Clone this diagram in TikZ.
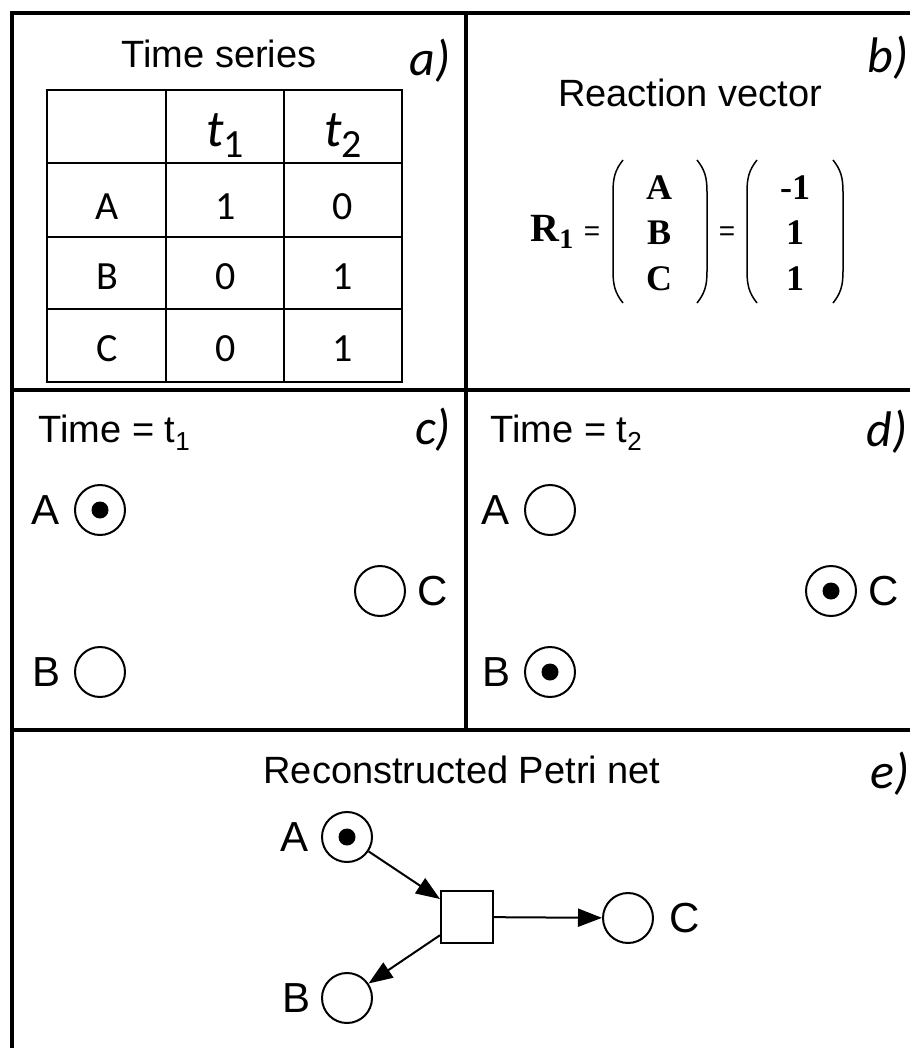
\documentclass[tikz,border=0pt]{standalone}
\usepackage{fontspec}
\setmainfont{Liberation Sans}
\newfontfamily\calfont{Carlito}
\newfontfamily\serfont{Liberation Serif}
\usetikzlibrary{positioning,arrows.meta}

\begin{document}
\begin{tikzpicture}[x=1pt,y=-1pt,
  frame/.style={line width=3.5pt},
  cell/.style={line width=2pt},
  title/.style={font=\fontsize{38}{40}\selectfont},
  tag/.style={font=\fontsize{50}{52}\selectfont\calfont\itshape},
  entry/.style={font=\fontsize{40}{42}\selectfont\calfont},
  vec/.style={font=\fontsize{36}{38}\selectfont\serfont\bfseries},
  eq/.style={font=\fontsize{28}{30}\selectfont},
  bracket/.style={line width=1.5pt},
  place/.style={circle,draw,line width=2pt,minimum size=50pt,inner sep=0pt},
  marked/.style={path picture={\fill (path picture bounding box.center) circle (8.5pt);}},
  pname/.style={font=\fontsize{42}{44}\selectfont,inner sep=2pt},
  trans/.style={rectangle,draw,line width=2pt,minimum size=52pt,inner sep=0pt},
  arc/.style={line width=2pt,-{Triangle[length=24pt,width=18pt]}}]

\useasboundingbox (0,0) rectangle (909,1048);

% panel frame
\draw[frame] (12,1060) -- (12,13) -- (920,13);
\draw[frame] (466,13) -- (466,730);
\draw[frame] (12,390) -- (920,390);
\draw[frame] (12,730) -- (920,730);

% a) time series
\node[title,anchor=base] (ts) at (219,68) {Time series};
\node[tag] (la) at (430,61) {a)};
\draw[cell] (47,90) rectangle (402,382);
\foreach \x in {166,284} \draw[cell] (\x,90) -- (\x,382);
\foreach \y in {163,237,309} \draw[cell] (47,\y) -- (402,\y);
\node[entry,anchor=base] (h1) at (225,147) {{\fontsize{52}{54}\selectfont\itshape t}\raisebox{-11pt}{1}};
\node[entry,anchor=base] (h2) at (343,147) {{\fontsize{52}{54}\selectfont\itshape t}\raisebox{-11pt}{2}};
\node[entry] (rA) at (107,207) {A};
\node[entry] (rA1) at (226,207) {1};
\node[entry] (rA2) at (343,207) {0};
\node[entry] (rB) at (107,277) {B};
\node[entry] (rB1) at (226,277) {0};
\node[entry] (rB2) at (343,277) {1};
\node[entry] (rC) at (107,349) {C};
\node[entry] (rC1) at (226,349) {0};
\node[entry] (rC2) at (343,349) {1};

% b) reaction vector
\node[title,anchor=base] (rv) at (690,107) {Reaction vector};
\node[tag] (lb) at (888,58) {b)};
\node[vec] (R1) at (552,232) {{\fontsize{40}{42}\selectfont R}\raisebox{-7pt}{\fontsize{28}{30}\selectfont 1}};
\node[eq] (eq1) at (592,234) {=};
\node[eq] (eq2) at (727,234) {=};
\node[vec] (vA) at (659,188) {A};
\node[vec] (vB) at (659,233) {B};
\node[vec] (vC) at (659,279) {C};
\node[vec] (n1) at (795,188) {-1};
\node[vec] (n2) at (795,233) {1};
\node[vec] (n3) at (795,279) {1};
\draw[bracket] (623,160) .. controls (615,170) and (613,178) .. (613,192) -- (613,271) .. controls (613,285) and (615,293) .. (623,303);
\draw[bracket] (697,160) .. controls (705,170) and (707,178) .. (707,192) -- (707,271) .. controls (707,285) and (705,293) .. (697,303);
\draw[bracket] (757,160) .. controls (749,170) and (747,178) .. (747,192) -- (747,271) .. controls (747,285) and (749,293) .. (757,303);
\draw[bracket] (833,160) .. controls (841,170) and (843,178) .. (843,192) -- (843,271) .. controls (843,285) and (841,293) .. (833,303);

% c) marking at t1
\node[title,anchor=base west] (tc) at (35,442) {Time = t\raisebox{-8pt}{\fontsize{26}{28}\selectfont 1}};
\node[tag] (lc) at (433,430) {c)};
\node[place,marked] (pAc) at (100,510) {};
\node[place] (pCc) at (380,591) {};
\node[place] (pBc) at (100,672) {};
\node[pname,left=12pt of pAc] (nAc) {A};
\node[pname,right=9pt of pCc] (nCc) {C};
\node[pname,left=11pt of pBc] (nBc) {B};

% d) marking at t2
\node[title,anchor=base west] (td) at (487,442) {Time = t\raisebox{-8pt}{\fontsize{26}{28}\selectfont 2}};
\node[tag] (ld) at (887,432) {d)};
\node[place] (pAd) at (550,510) {};
\node[place,marked] (pCd) at (831,591) {};
\node[place,marked] (pBd) at (550,672) {};
\node[pname,left=12pt of pAd] (nAd) {A};
\node[pname,right=9pt of pCd] (nCd) {C};
\node[pname,left=11pt of pBd] (nBd) {B};

% e) reconstructed net
\node[title,anchor=base] (pn) at (462,783) {Reconstructed Petri net};
\node[tag] (le) at (890,774) {e)};
\node[place,marked] (pAe) at (347,837) {};
\node[place] (pBe) at (347,998) {};
\node[place] (pCe) at (628,918) {};
\node[trans] (te) at (467,917) {};
\node[pname,left=10pt of pAe] (nAe) {A};
\node[pname,left=8pt of pBe] (nBe) {B};
\node[pname,right=13pt of pCe] (nCe) {C};
\draw[arc] (pAe) -- (te);
\draw[arc] (te) -- (pCe);
\draw[arc] (te) -- (pBe);
\end{tikzpicture}
\end{document}
